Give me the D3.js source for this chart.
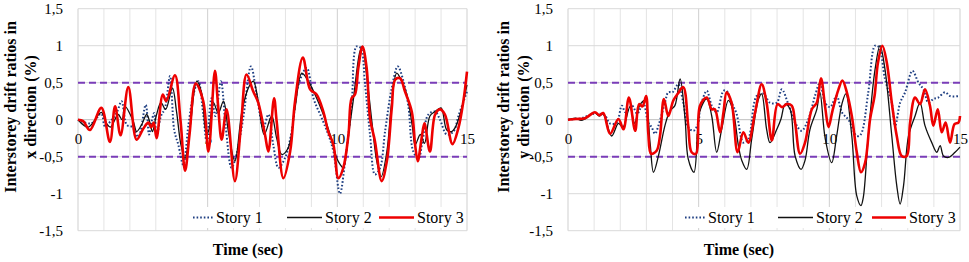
<!DOCTYPE html>
<html>
<head>
<meta charset="utf-8">
<script src="https://cdn.jsdelivr.net/npm/d3@7"></script>
<style>
  body { margin: 0; background: #fff; }
  text { font-family: "Liberation Serif", "Times New Roman", serif; fill: #000; }
</style>
</head>
<body>
<script>
// Tick values and labels
const xTicks = [0, 5, 10, 15];
const yTicks = [-1.5, -1, -0.5, 0, 0.5, 1, 1.5];
const limitLines = [0.5, -0.5];
const seriesNames = ["Story 1", "Story 2", "Story 3"];

// Left chart: x direction, [time (s), drift (%)]
const xStory1 = [[0,0],[0.5,-0.05],[0.9,0.08],[1.04,-0.09],[1.3,0.0],[1.5,0.1],[1.68,0.25],[1.88,-0.07],[2.1,-0.1],[2.33,-0.23],[2.61,0.2],[2.74,-0.2],[2.84,-0.02],[2.94,0.09],[3.03,-0.23],[3.2,0.05],[3.35,0.15],[3.55,0.59],[3.71,-0.14],[3.87,-0.34],[4.06,-0.61],[4.26,-0.07],[4.45,0.34],[4.64,0.52],[4.83,0.07],[4.96,-0.29],[5.15,0.29],[5.3,0.05],[5.51,0.52],[5.7,-0.11],[5.92,-0.65],[6.11,-0.47],[6.37,0.02],[6.67,0.72],[6.89,0.34],[7.15,-0.11],[7.34,0.07],[7.53,-0.34],[7.73,-0.65],[7.98,-0.52],[8.24,-0.16],[8.5,0.47],[8.82,0.7],[9.08,0.29],[9.4,0.02],[9.65,-0.2],[9.85,-0.43],[10.1,-1.0],[10.3,-0.56],[10.55,0.2],[10.74,0.99],[10.9,0.97],[11.07,0.47],[11.26,-0.2],[11.45,-0.74],[11.65,-0.65],[11.84,-0.16],[12.1,0.43],[12.33,0.72],[12.55,0.52],[12.74,0.18],[12.93,-0.43],[13.13,-0.52],[13.28,-0.3],[13.51,0.07],[13.77,0.11],[13.96,0.0],[14.22,-0.2],[14.48,-0.16],[14.67,0.05],[15,0.38]];
const xStory2 = [[0,0],[0.4,-0.1],[0.9,0.1],[1.1,-0.05],[1.25,-0.1],[1.55,0.07],[1.7,0.0],[1.81,0.18],[2.13,-0.02],[2.26,-0.16],[2.45,-0.07],[2.65,0.07],[2.78,-0.05],[2.87,-0.16],[3.03,0.07],[3.2,0.23],[3.38,0.14],[3.64,0.43],[3.8,0.11],[3.97,-0.34],[4.13,-0.52],[4.32,-0.11],[4.58,0.52],[4.77,0.36],[4.95,-0.18],[5.03,-0.16],[5.22,0.23],[5.41,0.09],[5.61,0.25],[5.8,-0.16],[6.05,-0.56],[6.32,0.11],[6.57,0.43],[6.76,0.52],[6.95,0.25],[7.18,-0.2],[7.47,0.05],[7.66,-0.25],[7.86,-0.47],[8.11,-0.38],[8.37,0.16],[8.63,0.63],[8.88,0.52],[9.14,0.34],[9.46,0.07],[9.72,-0.2],[9.98,-0.52],[10.1,-0.6],[10.23,-0.65],[10.43,-0.2],[10.61,0.25],[10.87,0.92],[10.97,0.99],[11.13,0.6],[11.33,-0.02],[11.52,-0.56],[11.69,-0.77],[11.91,-0.43],[12.1,0.25],[12.29,0.63],[12.48,0.52],[12.68,0.34],[12.9,-0.11],[13.0,-0.34],[13.2,-0.2],[13.36,-0.32],[13.57,0.05],[13.77,0.11],[14.0,0.16],[14.22,-0.14],[14.41,-0.16],[14.54,-0.11],[14.73,0.07],[15,0.47]];
const xStory3 = [[0,0],[0.2,-0.02],[0.46,-0.14],[0.9,0.16],[1.23,-0.3],[1.43,0.18],[1.64,-0.21],[1.94,0.44],[2.26,-0.27],[2.52,-0.12],[2.71,-0.04],[2.82,-0.1],[2.92,-0.04],[3.03,-0.25],[3.27,0.34],[3.4,0.25],[3.74,0.6],[3.95,0.0],[4.13,-0.69],[4.3,-0.2],[4.54,0.49],[4.83,0.25],[5.03,-0.43],[5.28,0.66],[5.4,0.2],[5.54,-0.27],[5.73,0.14],[6.05,-0.83],[6.28,-0.1],[6.5,0.61],[6.76,0.38],[6.95,0.23],[7.21,-0.2],[7.34,-0.43],[7.56,0.29],[7.66,-0.02],[7.92,-0.79],[8.18,-0.43],[8.37,0.25],[8.67,0.84],[8.95,0.41],[9.2,0.34],[9.46,0.11],[9.65,-0.16],[9.85,-0.34],[10.04,-0.79],[10.23,-0.65],[10.43,-0.2],[10.55,0.29],[10.68,0.34],[10.81,0.7],[10.97,0.99],[11.13,0.7],[11.26,0.02],[11.45,-0.29],[11.71,-0.83],[11.91,-0.56],[12.1,0.16],[12.23,0.54],[12.42,0.56],[12.61,0.38],[12.87,0.11],[13.0,-0.34],[13.1,-0.56],[13.25,-0.25],[13.36,-0.05],[13.57,-0.43],[13.77,0.07],[13.96,0.14],[14.15,0.07],[14.44,-0.33],[14.67,-0.11],[14.86,0.25],[15,0.65]];

// Right chart: y direction
const yStory1 = [[0,0],[0.5,0.02],[1.0,0.08],[1.4,0.06],[1.6,-0.05],[1.86,-0.04],[2.06,0.19],[2.2,0.1],[2.45,0.19],[2.65,0.08],[2.88,0.23],[3.07,-0.04],[3.2,-0.1],[3.33,-0.19],[3.46,-0.08],[3.71,0.23],[3.84,0.37],[4.0,0.37],[4.22,0.48],[4.41,0.23],[4.6,-0.1],[4.8,-0.15],[4.99,-0.04],[5.05,0.14],[5.31,0.39],[5.5,0.19],[5.69,0.1],[5.95,0.39],[6.07,0.39],[6.26,0.23],[6.45,0.08],[6.71,-0.31],[6.9,-0.26],[7.22,0.32],[7.48,0.35],[7.73,0.23],[7.99,0.23],[8.18,0.41],[8.43,0.21],[8.69,-0.04],[8.94,-0.15],[9.2,0.01],[9.45,0.32],[9.64,0.5],[9.84,0.23],[10.03,0.17],[10.28,0.32],[10.48,0.1],[10.73,0.0],[11.05,-0.22],[11.2,-0.2],[11.49,0.37],[11.75,1.0],[11.9,0.98],[12.13,0.55],[12.39,0.23],[12.52,-0.08],[12.71,0.23],[12.9,0.37],[13.18,0.66],[13.41,0.5],[13.6,0.41],[13.79,0.23],[13.98,0.28],[14.17,0.3],[14.43,0.37],[14.62,0.32],[15,0.32]];
const yStory2 = [[0,0],[0.3,0.02],[0.5,-0.01],[0.65,0.01],[1.0,0.1],[1.2,0.05],[1.35,0.08],[1.67,-0.22],[1.93,-0.05],[2.1,-0.1],[2.37,0.17],[2.55,-0.05],[2.75,0.2],[2.95,0.26],[3.14,-0.31],[3.27,-0.71],[3.46,-0.49],[3.71,-0.08],[3.9,0.12],[4.09,0.19],[4.29,0.55],[4.48,0.01],[4.6,-0.53],[4.82,-0.71],[5.05,0.12],[5.31,0.28],[5.5,0.05],[5.69,-0.44],[5.88,-0.13],[6.14,0.26],[6.33,0.1],[6.52,-0.35],[6.65,-0.55],[6.84,-0.67],[7.03,-0.26],[7.29,0.28],[7.41,0.35],[7.6,-0.13],[7.73,-0.31],[7.99,-0.13],[8.15,0.01],[8.31,0.21],[8.5,0.14],[8.69,-0.49],[8.92,-0.67],[9.07,-0.55],[9.26,-0.13],[9.52,0.14],[9.64,0.37],[9.84,-0.25],[10.09,-0.58],[10.28,-0.22],[10.48,0.21],[10.63,0.35],[10.86,-0.22],[11.05,-1.03],[11.21,-1.16],[11.3,-1.05],[11.49,-0.22],[11.75,0.68],[11.94,1.0],[12.13,0.68],[12.39,-0.22],[12.58,-0.89],[12.71,-1.14],[12.84,-0.89],[13.03,-0.22],[13.28,0.05],[13.47,0.23],[13.66,-0.08],[13.92,-0.31],[14.11,-0.44],[14.24,-0.35],[14.37,-0.49],[14.56,-0.51],[14.81,-0.44],[15,-0.37]];
const yStory3 = [[0,0],[0.3,0.01],[0.65,0.02],[1.03,0.1],[1.2,0.06],[1.35,0.09],[1.61,-0.19],[1.93,0.01],[2.12,-0.13],[2.33,0.3],[2.57,-0.15],[2.72,0.21],[2.85,0.18],[2.99,0.32],[3.07,-0.17],[3.18,-0.46],[3.39,-0.42],[3.52,-0.22],[3.67,0.28],[3.84,0.05],[4.03,0.26],[4.2,0.35],[4.41,0.44],[4.6,-0.08],[4.73,-0.44],[4.9,-0.46],[5.05,0.19],[5.31,0.3],[5.5,0.14],[5.62,0.14],[5.82,-0.17],[5.95,0.1],[6.07,0.37],[6.26,0.23],[6.49,-0.44],[6.71,-0.17],[6.9,-0.31],[7.16,0.1],[7.41,0.48],[7.6,0.23],[7.8,-0.28],[8.02,0.21],[8.2,0.17],[8.37,0.21],[8.56,0.19],[8.69,-0.04],[8.88,-0.46],[9.07,-0.31],[9.33,0.14],[9.52,0.23],[9.68,0.56],[9.84,0.17],[9.97,-0.1],[10.12,0.12],[10.35,0.41],[10.5,0.53],[10.67,0.37],[10.86,0.05],[11.05,-0.44],[11.21,-0.71],[11.37,-0.58],[11.56,0.01],[11.73,0.32],[11.86,0.77],[12.03,1.0],[12.2,0.77],[12.39,0.23],[12.58,-0.22],[12.77,-0.49],[12.96,-0.49],[13.09,-0.04],[13.28,0.3],[13.47,0.21],[13.66,0.41],[13.85,0.19],[13.98,-0.08],[14.15,0.14],[14.3,-0.17],[14.45,-0.04],[14.62,-0.31],[14.79,-0.06],[14.94,-0.04],[15,0.05]];

const svg = d3.select("body").append("svg")
    .attr("width", 969)
    .attr("height", 262);

// line styles per story
const styles = [
    { stroke: "#1f3f82", width: 2, dash: "1.6,2" },
    { stroke: "#111", width: 1.3, dash: null },
    { stroke: "#ee0000", width: 2.6, dash: null }
];

function drawPanel(p) {
    const x = d3.scaleLinear().domain([0, 15]).range([p.left, p.right]);
    const y = d3.scaleLinear().domain([-1.5, 1.5]).range([230.7, 8.7]);
    const g = svg.append("g");

    // vertical gridlines, 1 s apart, darker every 5 s
    g.append("g").selectAll("line")
        .data(d3.range(0, 16))
        .join("line")
        .attr("x1", d => x(d)).attr("x2", d => x(d))
        .attr("y1", y(1.5)).attr("y2", y(-1.5))
        .attr("stroke", d => d % 5 === 0 ? "#cfcfcf" : "#e4e4e4")
        .attr("stroke-width", 1);

    // horizontal gridlines
    g.append("g").selectAll("line")
        .data(yTicks)
        .join("line")
        .attr("x1", x(0)).attr("x2", x(15))
        .attr("y1", d => y(d)).attr("y2", d => y(d))
        .attr("stroke", d => d === 0 ? "#bdbdbd" : "#d9d9d9")
        .attr("stroke-width", 1);

    // y axis labels
    g.append("g")
        .attr("transform", `translate(${p.left},0)`)
        .call(d3.axisLeft(y).tickValues(yTicks).tickSize(0).tickPadding(15)
            .tickFormat(d => String(d).replace(".", ",")))
        .call(a => a.select(".domain").remove())
        .selectAll("text")
        .attr("font-family", "Liberation Serif, serif")
        .attr("font-size", 15)
        .attr("fill", "#000");

    // x axis labels sit just under the zero line
    g.append("g")
        .attr("transform", `translate(0,${y(0)})`)
        .call(d3.axisBottom(x).tickValues(xTicks).tickSize(0).tickPadding(14))
        .call(a => a.select(".domain").remove())
        .selectAll("text")
        .attr("font-family", "Liberation Serif, serif")
        .attr("font-size", 15)
        .attr("fill", "#000");

    // +-0.5 % limit lines
    g.append("g").selectAll("line")
        .data(limitLines)
        .join("line")
        .attr("x1", x(0)).attr("x2", x(15))
        .attr("y1", d => y(d)).attr("y2", d => y(d))
        .attr("stroke", "#7a3db8")
        .attr("stroke-width", 2)
        .attr("stroke-dasharray", "7,4");

    // the three stories
    const line = d3.line()
        .x(d => x(d[0]))
        .y(d => y(d[1]))
        .curve(d3.curveCatmullRom.alpha(0.5));

    p.series.forEach((s, i) => {
        g.append("path")
            .datum(s)
            .attr("fill", "none")
            .attr("stroke", styles[i].stroke)
            .attr("stroke-width", styles[i].width)
            .attr("stroke-dasharray", styles[i].dash)
            .attr("stroke-linejoin", "round")
            .attr("d", line);
    });

    // legend with white background
    const lg = g.append("g");
    lg.append("rect")
        .attr("x", p.legend[0][0] - 4).attr("y", 207)
        .attr("width", x(15) - p.legend[0][0] + 3).attr("height", 21)
        .attr("fill", "#fff");
    p.legend.forEach((l, i) => {
        lg.append("line")
            .attr("x1", l[0]).attr("x2", l[1])
            .attr("y1", 217.5).attr("y2", 217.5)
            .attr("stroke", styles[i].stroke)
            .attr("stroke-width", styles[i].width)
            .attr("stroke-dasharray", styles[i].dash);
        lg.append("text")
            .attr("x", l[1] + 3).attr("y", 223)
            .attr("font-size", 16)
            .text(seriesNames[i]);
    });

    // axis titles
    const title = g.append("text")
        .attr("transform", `translate(${p.titleX[0]},107) rotate(-90)`)
        .attr("text-anchor", "middle")
        .attr("font-size", 16)
        .attr("font-weight", "bold");
    title.append("tspan").attr("x", 0).attr("dy", "0.35em").text("Interstorey drift ratios in");
    title.append("tspan").attr("x", 0).attr("dy", (p.titleX[1] - p.titleX[0]) + "px").text(p.title2);

    g.append("text")
        .attr("x", p.timeX).attr("y", 255)
        .attr("text-anchor", "middle")
        .attr("font-size", 16)
        .attr("font-weight", "bold")
        .text("Time (sec)");
}

drawPanel({
    left: 78, right: 467,
    series: [xStory1, xStory2, xStory3],
    legend: [[193, 213], [287, 322], [379, 414]],
    titleX: [10, 30],
    title2: "x direction (%)",
    timeX: 248
});

drawPanel({
    left: 568, right: 960,
    series: [yStory1, yStory2, yStory3],
    legend: [[685, 705], [778, 813], [872, 906]],
    titleX: [503, 523],
    title2: "y direction (%)",
    timeX: 739
});
</script>
</body>
</html>
